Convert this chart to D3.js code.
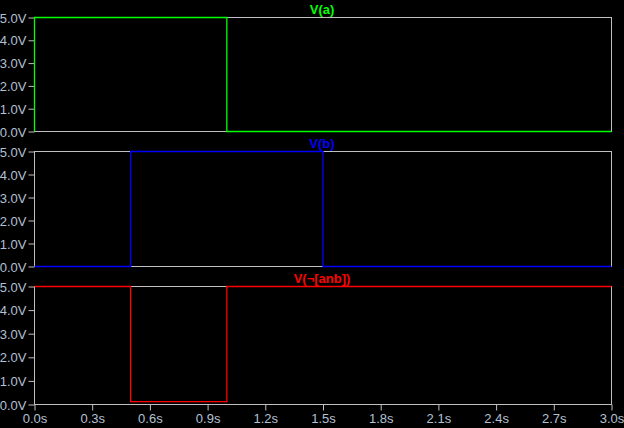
<!DOCTYPE html>
<html><head><meta charset="utf-8">
<script src="https://cdn.jsdelivr.net/npm/d3@7"></script>
<style>
html,body{margin:0;padding:0;background:#000;}
svg{display:block;}
text{font-family:"Liberation Sans",Arial,sans-serif;}
</style></head>
<body><svg id="c" width="624" height="428"></svg>
<script>
// Data
const timeTicks = [0,0.3,0.6,0.9,1.2,1.5,1.8,2.1,2.4,2.7,3.0];
const voltTicks = [0,1,2,3,4,5];
const traceNames = ["V(a)", "V(b)", "V(¬[anb])"];
const traceColors = ["#00ff00", "#0000ff", "#ff0000"];
const timeA = [0, 0, 1.0, 1.0, 3.0];
const voltA = [0, 5, 5, 0, 0];
const timeB = [0, 0.5, 0.5, 1.5, 1.5, 3.0];
const voltB = [0, 0, 5, 5, 0, 0];
const timeN = [0, 0.5, 0.5, 1.0, 1.0, 3.0];
const voltN = [5, 5, 0.12, 0.12, 5, 5];

const traces = [
  {t: timeA, v: voltA},
  {t: timeB, v: voltB},
  {t: timeN, v: voltN}
];
const panels = [[17.5,131.5],[151.5,266.5],[286.5,404.5]];

const svg = d3.select("#c");
const x = d3.scaleLinear().domain([0,3]).range([34.5,611.5]);
const labelColor = "#b4c0d4";
const frameColor = "#c0c0c0";
const font = "'Liberation Sans',Arial,sans-serif";

panels.forEach((p,i)=>{
  const y = d3.scaleLinear().domain([0,5]).range([p[1],p[0]]);
  const g = svg.append("g");
  g.append("rect").attr("x",x(0)).attr("y",p[0]).attr("width",x(3)-x(0)).attr("height",p[1]-p[0])
    .attr("fill","none").attr("stroke",frameColor).attr("stroke-width",1);
  const ya = d3.axisLeft(y).tickValues(voltTicks).tickFormat(d=>d3.format(".1f")(d)+"V").tickSize(6).tickPadding(2);
  const ag = g.append("g").attr("transform",`translate(${x(0)},0)`).call(ya);
  ag.select(".domain").remove();
  ag.selectAll("line").attr("stroke",frameColor);
  ag.selectAll("text").attr("fill",labelColor).attr("font-size",13).attr("font-family",font).attr("dy","0.36em");
  if(i===2){
    const xa = d3.axisBottom(x).tickValues(timeTicks).tickFormat(d=>d3.format(".1f")(d)+"s").tickSize(6).tickPadding(3);
    const xg = g.append("g").attr("transform",`translate(0,${p[1]})`).call(xa);
    xg.select(".domain").remove();
    xg.selectAll("line").attr("stroke",frameColor);
    xg.selectAll("text").attr("fill",labelColor).attr("font-size",13).attr("font-family",font);
  }
  const tr = traces[i];
  const pts = tr.t.map((t,k)=>[t,tr.v[k]]);
  g.append("path").datum(pts)
    .attr("d", d3.line().x(d=>x(d[0])).y(d=>y(d[1])))
    .attr("fill","none").attr("stroke",traceColors[i]).attr("stroke-width",1.3);
  g.append("text").attr("x",322).attr("y",p[0]-4).attr("text-anchor","middle")
    .attr("fill",traceColors[i]).attr("font-weight","bold").attr("font-size",13).attr("font-family",font)
    .text(traceNames[i]);
});
</script></body></html>
